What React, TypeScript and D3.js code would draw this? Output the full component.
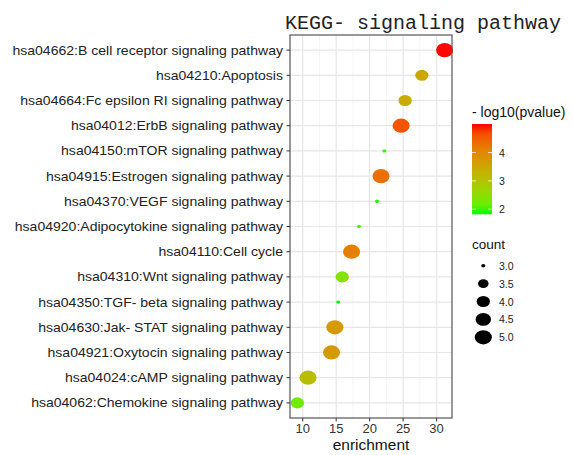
import React from "react";
import * as d3 from "d3";

const categories = [
  "hsa04662:B cell receptor signaling pathway",
  "hsa04210:Apoptosis",
  "hsa04664:Fc epsilon RI signaling pathway",
  "hsa04012:ErbB signaling pathway",
  "hsa04150:mTOR signaling pathway",
  "hsa04915:Estrogen signaling pathway",
  "hsa04370:VEGF signaling pathway",
  "hsa04920:Adipocytokine signaling pathway",
  "hsa04110:Cell cycle",
  "hsa04310:Wnt signaling pathway",
  "hsa04350:TGF- beta signaling pathway",
  "hsa04630:Jak- STAT signaling pathway",
  "hsa04921:Oxytocin signaling pathway",
  "hsa04024:cAMP signaling pathway",
  "hsa04062:Chemokine signaling pathway",
];
const enrichment = [31.2, 27.8, 25.3, 24.7, 22.2, 21.7, 21.1, 18.4, 17.3, 15.9, 15.3, 14.8, 14.3, 10.8, 9.2];
const logp = [5.0, 3.5, 3.4, 4.6, 1.9, 4.3, 1.85, 2.0, 4.1, 2.4, 1.82, 3.7, 3.7, 3.1, 2.2];
const counts = [5, 4, 4, 5, 3, 5, 3, 3, 5, 4, 3, 5, 5, 5, 4];
const xTicks = [10, 15, 20, 25, 30];
const colorTicks = [2, 3, 4];
const sizeTicks = [3.0, 3.5, 4.0, 4.5, 5.0];
const colorDomain = [1.82, 5.01];

const W = 573;
const H = 455;
const panel = { left: 290, right: 452, top: 35, bottom: 418 };

export default function App() {
  const ext = d3.extent(enrichment) as [number, number];
  const pad = (ext[1] - ext[0]) * 0.05;
  const x = d3.scaleLinear().domain([ext[0] - pad, ext[1] + pad]).range([panel.left, panel.right]);
  const y = d3.scalePoint<string>().domain(categories).range([panel.top, panel.bottom]).padding(0.6);
  const color = d3
    .scaleLinear<string>()
    .domain(colorDomain)
    .range(["#00ff00", "#ff0000"])
    .interpolate(d3.interpolateLab);
  const unit = d3.scaleLinear().domain([3, 5]).range([0, 1]);
  const dia = d3.scaleLinear().domain([0, 1]).range([3.6, 15]);
  const size = (c: number) => dia(Math.sqrt(Math.max(0, unit(c))));

  const minor: number[] = [];
  const [d0, d1] = x.domain();
  for (let v = 7.5; v <= d1; v += 5) if (v >= d0) minor.push(v);

  const cb = { x: 472, w: 20, top: 124, bottom: 214.3 };
  const cy = d3.scaleLinear().domain(colorDomain).range([cb.bottom, cb.top]);
  const gradStops = d3.range(0, 1.0001, 0.1);

  const labelFont = "Liberation Sans, Arial, sans-serif";
  const sx = 1.14;

  return (
    <svg width={W} height={H} style={{ position: "absolute", left: 0, top: 0 }}>
      <rect x={0} y={0} width={W} height={H} fill="#fff" />
      <defs>
        <linearGradient id="cbar" x1="0" y1="1" x2="0" y2="0">
          {gradStops.map((t) => (
            <stop key={t} offset={t} stopColor={color(colorDomain[0] + t * (colorDomain[1] - colorDomain[0]))} />
          ))}
        </linearGradient>
      </defs>
      <text x={285} y={29} fontFamily="Liberation Mono, DejaVu Sans Mono, monospace" fontSize={20} fill="#222">
        KEGG- signaling pathway
      </text>
      {/* grid */}
      {minor.map((v) => (
        <line key={"mi" + v} x1={x(v)} x2={x(v)} y1={panel.top} y2={panel.bottom} stroke="#f2f2f2" strokeWidth={0.8} />
      ))}
      {xTicks.map((v) => (
        <line key={"ma" + v} x1={x(v)} x2={x(v)} y1={panel.top} y2={panel.bottom} stroke="#e6e6e6" strokeWidth={1.2} />
      ))}
      {categories.map((c) => (
        <line key={"hg" + c} x1={panel.left} x2={panel.right} y1={y(c)} y2={y(c)} stroke="#e6e6e6" strokeWidth={1.2} />
      ))}
      {/* points */}
      {categories.map((c, i) => {
        const d = size(counts[i]);
        return (
          <ellipse key={"p" + c} cx={x(enrichment[i])} cy={y(c)} rx={(d / 2) * sx} ry={(d / 2) * 0.95} fill={color(logp[i])} />
        );
      })}
      <rect x={panel.left} y={panel.top} width={panel.right - panel.left} height={panel.bottom - panel.top} fill="none" stroke="#555" strokeWidth={1.2} />
      {/* y axis */}
      {categories.map((c) => (
        <g key={"yl" + c}>
          <line x1={panel.left - 3.5} x2={panel.left} y1={y(c)} y2={y(c)} stroke="#333" strokeWidth={1} />
          <text
            transform={`translate(283,${(y(c) as number) + 4.5}) scale(1.08,1)`}
            textAnchor="end"
            fontFamily={labelFont}
            fontSize={13}
            fill="#222"
          >
            {c}
          </text>
        </g>
      ))}
      {/* x axis */}
      {xTicks.map((v) => (
        <g key={"xl" + v}>
          <line x1={x(v)} x2={x(v)} y1={panel.bottom} y2={panel.bottom + 3.5} stroke="#333" strokeWidth={1} />
          <text x={x(v)} y={433} textAnchor="middle" fontFamily={labelFont} fontSize={13} fill="#333">
            {v}
          </text>
        </g>
      ))}
      <text x={(panel.left + panel.right) / 2} y={450} textAnchor="middle" fontFamily={labelFont} fontSize={15.5} fill="#111">
        enrichment
      </text>
      {/* color legend */}
      <text x={472} y={117} fontFamily={labelFont} fontSize={14} fill="#111">
        - log10(pvalue)
      </text>
      <rect x={cb.x} y={cb.top} width={cb.w} height={cb.bottom - cb.top} fill="url(#cbar)" />
      {colorTicks.map((v) => (
        <g key={"ct" + v}>
          <line x1={cb.x} x2={cb.x + 4} y1={cy(v)} y2={cy(v)} stroke="#fff" strokeWidth={0.8} />
          <line x1={cb.x + cb.w - 4} x2={cb.x + cb.w} y1={cy(v)} y2={cy(v)} stroke="#fff" strokeWidth={0.8} />
          <text x={499} y={cy(v) + 4} fontFamily={labelFont} fontSize={10.5} fill="#222">
            {v}
          </text>
        </g>
      ))}
      {/* size legend */}
      <text x={472} y={249} fontFamily={labelFont} fontSize={13.5} fill="#111">
        count
      </text>
      {sizeTicks.map((v, i) => {
        const d = size(v);
        const yy = 265.7 + i * 17.9;
        return (
          <g key={"st" + v}>
            <ellipse cx={483.3} cy={yy} rx={(d / 2) * sx} ry={(d / 2) * 0.95} fill="#000" />
            <text x={499} y={yy + 4} fontFamily={labelFont} fontSize={10.5} fill="#222">
              {v.toFixed(1)}
            </text>
          </g>
        );
      })}
    </svg>
  );
}
